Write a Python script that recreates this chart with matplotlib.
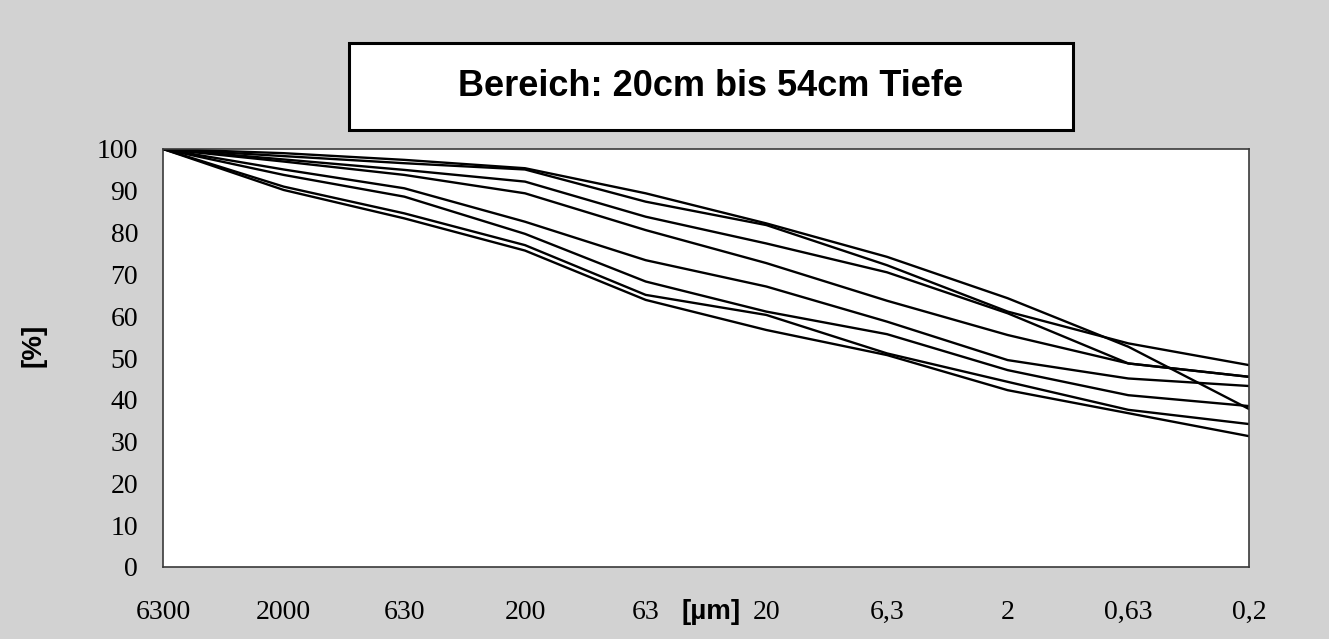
import matplotlib
matplotlib.use("Agg")
import matplotlib.pyplot as plt
from matplotlib.patches import Rectangle

# ---- data ----
categories = ["6300", "2000", "630", "200", "63", "20", "6,3", "2", "0,63", "0,2"]
series_a = [100, 99.0, 97.4, 95.4, 89.4, 82.2, 74.2, 64.3, 52.7, 37.8]
series_b = [100, 98.3, 96.6, 95.1, 87.4, 81.8, 72.2, 61.1, 53.5, 48.3]
series_c = [100, 97.5, 95.0, 92.2, 83.8, 77.4, 70.5, 60.7, 48.7, 45.5]
series_d = [100, 97.0, 93.8, 89.4, 80.6, 72.7, 63.7, 55.5, 48.7, 45.5]
series_e = [100, 95.1, 90.6, 82.6, 73.4, 67.1, 58.7, 49.5, 45.1, 43.3]
series_f = [100, 93.8, 88.6, 79.7, 68.3, 61.1, 55.7, 47.1, 41.1, 38.5]
series_g = [100, 91.0, 84.6, 77.0, 65.1, 60.3, 51.1, 44.3, 37.6, 34.2]
series_h = [100, 90.2, 83.4, 75.7, 63.9, 56.7, 50.7, 42.3, 36.8, 31.3]
all_series = [series_a, series_b, series_c, series_d,
              series_e, series_f, series_g, series_h]
y_ticks = [0, 10, 20, 30, 40, 50, 60, 70, 80, 90, 100]
title = "Bereich: 20cm bis 54cm Tiefe"
x_unit = "[µm]"
y_unit = "[%]"

W, H = 1329, 639
bg = "#d2d2d2"
fig = plt.figure(figsize=(W / 100, H / 100), dpi=100, facecolor=bg)

left, right, top, bottom = 163, 1249, 149, 567
ax = fig.add_axes([left / W, 1 - bottom / H, (right - left) / W, (bottom - top) / H])
ax.set_facecolor("white")

x = list(range(len(categories)))
for s in all_series:
    ax.plot(x, s, color="black", linewidth=1.7, solid_joinstyle="round")

ax.set_xlim(0, len(categories) - 1)
ax.set_ylim(0, 100)
ax.set_yticks(y_ticks)
ax.set_yticklabels([str(v) for v in y_ticks], fontfamily="Liberation Serif", fontsize=20)
ax.set_xticks(x)
ax.set_xticklabels(categories, fontfamily="Liberation Serif", fontsize=20)
ax.tick_params(axis="y", length=0, pad=18)
ax.tick_params(axis="x", length=0, pad=24)
for sp in ax.spines.values():
    sp.set_color("#3a3a3a")
    sp.set_linewidth(1.2)

# axis unit labels
fig.text(711 / W, 1 - 612 / H, x_unit, fontfamily="Liberation Sans", fontweight="bold",
         fontsize=20, ha="center", va="center")
fig.text(33 / W, 1 - 345 / H, y_unit, fontfamily="Liberation Sans", fontweight="bold",
         fontsize=20, ha="center", va="center", rotation=90)

# title box
bx0, bx1, by0, by1 = 349, 1073, 43, 130
fig.patches.append(Rectangle((bx0 / W, 1 - by1 / H), (bx1 - bx0) / W, (by1 - by0) / H,
                             transform=fig.transFigure, facecolor="white",
                             edgecolor="black", linewidth=2.2))
fig.text((bx0 + bx1) / 2 / W, 1 - (by0 + by1) / 2 / H, title,
         fontfamily="Liberation Sans", fontweight="bold", fontsize=26,
         ha="center", va="center")

fig.savefig("out.png", dpi=100, facecolor=bg)
